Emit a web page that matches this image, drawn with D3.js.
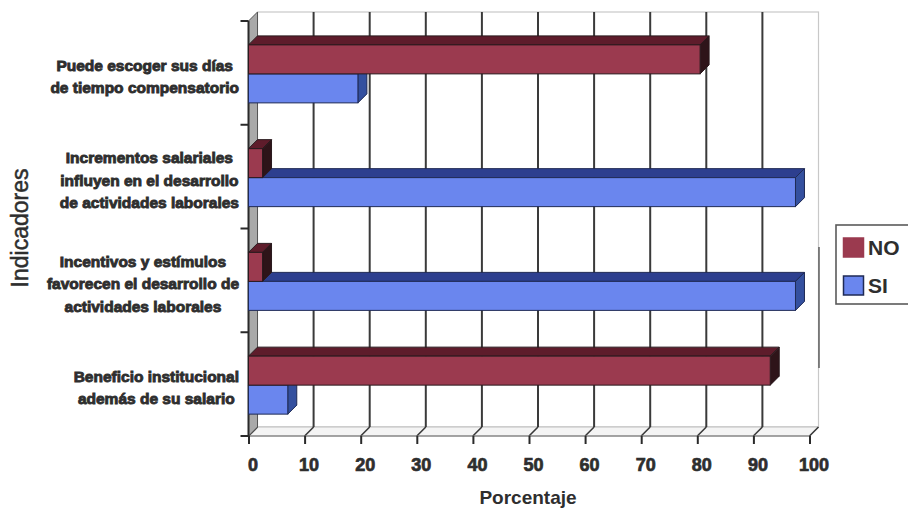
<!DOCTYPE html>
<html>
<head>
<meta charset="utf-8">
<script src="https://cdn.jsdelivr.net/npm/d3@7/dist/d3.min.js"></script>
<style>
  html, body { margin: 0; padding: 0; background: #ffffff; }
  svg { display: block; font-family: "Liberation Sans", Arial, sans-serif; }
</style>
</head>
<body>
<svg id="chart" width="908" height="510"></svg>
<script>
// Indicator categories, top to bottom, with their wrapped label lines
const categories = [
  "Puede escoger sus días de tiempo compensatorio",
  "Incrementos salariales influyen en el desarrollo de actividades laborales",
  "Incentivos y estímulos favorecen el desarrollo de actividades laborales",
  "Beneficio institucional además de su salario"
];
const categoryLines = [
  ["Puede escoger sus días", "de tiempo compensatorio"],
  ["Incrementos salariales", "influyen en el desarrollo", "de actividades laborales"],
  ["Incentivos y estímulos", "favorecen el desarrollo de", "actividades laborales"],
  ["Beneficio institucional", "además de su salario"]
];
const seriesNames = ["NO", "SI"];
const valuesNO = [80.5, 2.5, 2.5, 93];
const valuesSI = [19.5, 97.5, 97.5, 7];
const xTicks = [0, 10, 20, 30, 40, 50, 60, 70, 80, 90, 100];

const palette = {
  NO: { front: "#9b3a4f", top: "#5e1c2b", side: "#2e1419", stroke: "#2a1a1e" },
  SI: { front: "#6a86ee", top: "#2d3f8f", side: "#34509f", stroke: "#1f2a55" }
};
const textColor = "#2e2e2e";

const svg = d3.select("#chart");

// 3D depth offset of the plot box
const D = 9;
const front = { left: 248.5, right: 809.5, top: 21, bottom: 436 };

const x = d3.scaleLinear().domain([0, 100]).range([front.left, front.right]);
const y = d3.scaleBand().domain(categories).range([front.top, front.bottom]).paddingInner(0).paddingOuter(0);
const barH = 29;
const inner = d3.scaleBand().domain(seriesNames).range([-barH, barH]);

const data = categories.map((c, i) => ({ cat: c, NO: valuesNO[i], SI: valuesSI[i] }));

// ---- walls and floor ----
const walls = svg.append("g");
// back wall
walls.append("rect")
  .attr("x", front.left + D).attr("y", front.top - D)
  .attr("width", x(100) - x(0)).attr("height", front.bottom - front.top)
  .attr("fill", "#ffffff").attr("stroke", "#c8c8c8").attr("stroke-width", 1.2);
// floor
walls.append("path")
  .attr("d", `M${x(0)},${front.bottom} L${x(100)},${front.bottom} L${x(100) + D},${front.bottom - D} L${x(0) + D},${front.bottom - D} Z`)
  .attr("fill", "#f4f4f4").attr("stroke", "#bdbdbd").attr("stroke-width", 1);
// vertical gridlines on the back wall and diagonals on the floor
xTicks.filter(t => t > 0 && t < 100).forEach(t => {
  walls.append("line")
    .attr("x1", x(t) + D).attr("x2", x(t) + D)
    .attr("y1", front.top - D).attr("y2", front.bottom - D)
    .attr("stroke", "#3a3a3a").attr("stroke-width", 2);
});
xTicks.forEach(t => {
  walls.append("line")
    .attr("x1", x(t)).attr("y1", front.bottom)
    .attr("x2", x(t) + D).attr("y2", front.bottom - D)
    .attr("stroke", "#3a3a3a").attr("stroke-width", 1.6);
});
// front edge of floor
walls.append("line")
  .attr("x1", x(0)).attr("x2", x(100)).attr("y1", front.bottom).attr("y2", front.bottom)
  .attr("stroke", "#6a6a6a").attr("stroke-width", 1.2);
// left side wall
walls.append("path")
  .attr("d", `M${x(0)},${front.top} L${x(0) + D},${front.top - D} L${x(0) + D},${front.bottom - D} L${x(0)},${front.bottom} Z`)
  .attr("fill", "#a9a9a9").attr("stroke", "#555").attr("stroke-width", 1);
walls.append("line")
  .attr("x1", x(0)).attr("x2", x(0)).attr("y1", front.top).attr("y2", front.bottom)
  .attr("stroke", "#2a2a2a").attr("stroke-width", 2);
// short darker stretch of the right border
walls.append("line")
  .attr("x1", x(100) + D + 0.5).attr("x2", x(100) + D + 0.5).attr("y1", 247).attr("y2", 368)
  .attr("stroke", "#555").attr("stroke-width", 1.4);

// ---- bars ----
const bars = svg.append("g");
function drawBar(val, yTop, col) {
  const x0 = x(0), x1 = x(val);
  const g = bars.append("g");
  g.append("path")
    .attr("d", `M${x0},${yTop} L${x0 + D},${yTop - D} L${x1 + D},${yTop - D} L${x1},${yTop} Z`)
    .attr("fill", col.top).attr("stroke", col.stroke).attr("stroke-width", 1);
  g.append("path")
    .attr("d", `M${x1},${yTop} L${x1 + D},${yTop - D} L${x1 + D},${yTop + barH - D} L${x1},${yTop + barH} Z`)
    .attr("fill", col.side).attr("stroke", col.stroke).attr("stroke-width", 1);
  g.append("rect")
    .attr("x", x0).attr("y", yTop).attr("width", x1 - x0).attr("height", barH)
    .attr("fill", col.front).attr("stroke", col.stroke).attr("stroke-width", 1);
}
data.forEach(d => {
  const c = y(d.cat) + y.bandwidth() / 2 + 1;
  // lower bar first so the upper one overlaps its top face
  drawBar(d.SI, c + inner("SI"), palette.SI);
  drawBar(d.NO, c + inner("NO"), palette.NO);
});

// ---- axes ----
const xAxis = d3.axisBottom(x).tickValues(xTicks).tickSize(8).tickPadding(14).tickFormat(d3.format("d"));
const gx = svg.append("g").attr("transform", `translate(0,${front.bottom})`).call(xAxis);
gx.select(".domain").remove();
gx.selectAll(".tick line").attr("stroke", "#2a2a2a").attr("stroke-width", 2);
gx.selectAll(".tick text")
  .attr("fill", textColor).attr("font-size", 18).attr("font-weight", "bold")
  .attr("dx", 4).attr("stroke", textColor).attr("stroke-width", 0.7);

// category tick marks on the left wall
const catEdges = categories.map(c => y(c)).concat([front.bottom]);
svg.append("g").selectAll("line").data(catEdges).join("line")
  .attr("x1", x(0) - 8).attr("x2", x(0)).attr("y1", d => d).attr("y2", d => d)
  .attr("stroke", "#2a2a2a").attr("stroke-width", 2);

// category labels: lines centred within a right-aligned block
const labels = svg.append("g");
categoryLines.forEach((lines, i) => {
  const c = y(categories[i]) + y.bandwidth() / 2;
  const g = labels.append("g");
  const texts = lines.map((ln, j) => g.append("text")
    .text(ln)
    .attr("y", c + 9 + (j - (lines.length - 1) / 2) * 22.5)
    .attr("font-size", 15.5).attr("font-weight", "bold")
    .attr("fill", textColor).attr("stroke", textColor).attr("stroke-width", 0.9)
    .attr("text-anchor", "middle"));
  const maxW = d3.max(texts, t => t.node().getComputedTextLength());
  texts.forEach(t => t.attr("x", 239 - maxW / 2));
});

// axis titles
svg.append("text")
  .text("Porcentaje")
  .attr("x", 528).attr("y", 504)
  .attr("text-anchor", "middle")
  .attr("font-size", 19).attr("font-weight", "bold")
  .attr("fill", textColor);
svg.append("text")
  .text("Indicadores")
  .attr("transform", "translate(28,228) rotate(-90)")
  .attr("text-anchor", "middle")
  .attr("font-size", 23)
  .attr("fill", textColor).attr("stroke", textColor).attr("stroke-width", 0.5);

// ---- legend ----
const legend = svg.append("g");
legend.append("rect")
  .attr("x", 836).attr("y", 225).attr("width", 80).attr("height", 79)
  .attr("fill", "#ffffff").attr("stroke", "#5a5a5a").attr("stroke-width", 1.6);
seriesNames.forEach((s, i) => {
  const yy = 238 + i * 38;
  legend.append("rect")
    .attr("x", 843.5).attr("y", yy).attr("width", 20).attr("height", 19)
    .attr("fill", palette[s].front)
    .attr("stroke", s === "SI" ? "#1f2a55" : palette[s].front).attr("stroke-width", 1.5);
  legend.append("text")
    .text(s)
    .attr("x", 868).attr("y", yy + 17)
    .attr("font-size", 21).attr("font-weight", "bold")
    .attr("fill", textColor);
});
</script>
</body>
</html>
